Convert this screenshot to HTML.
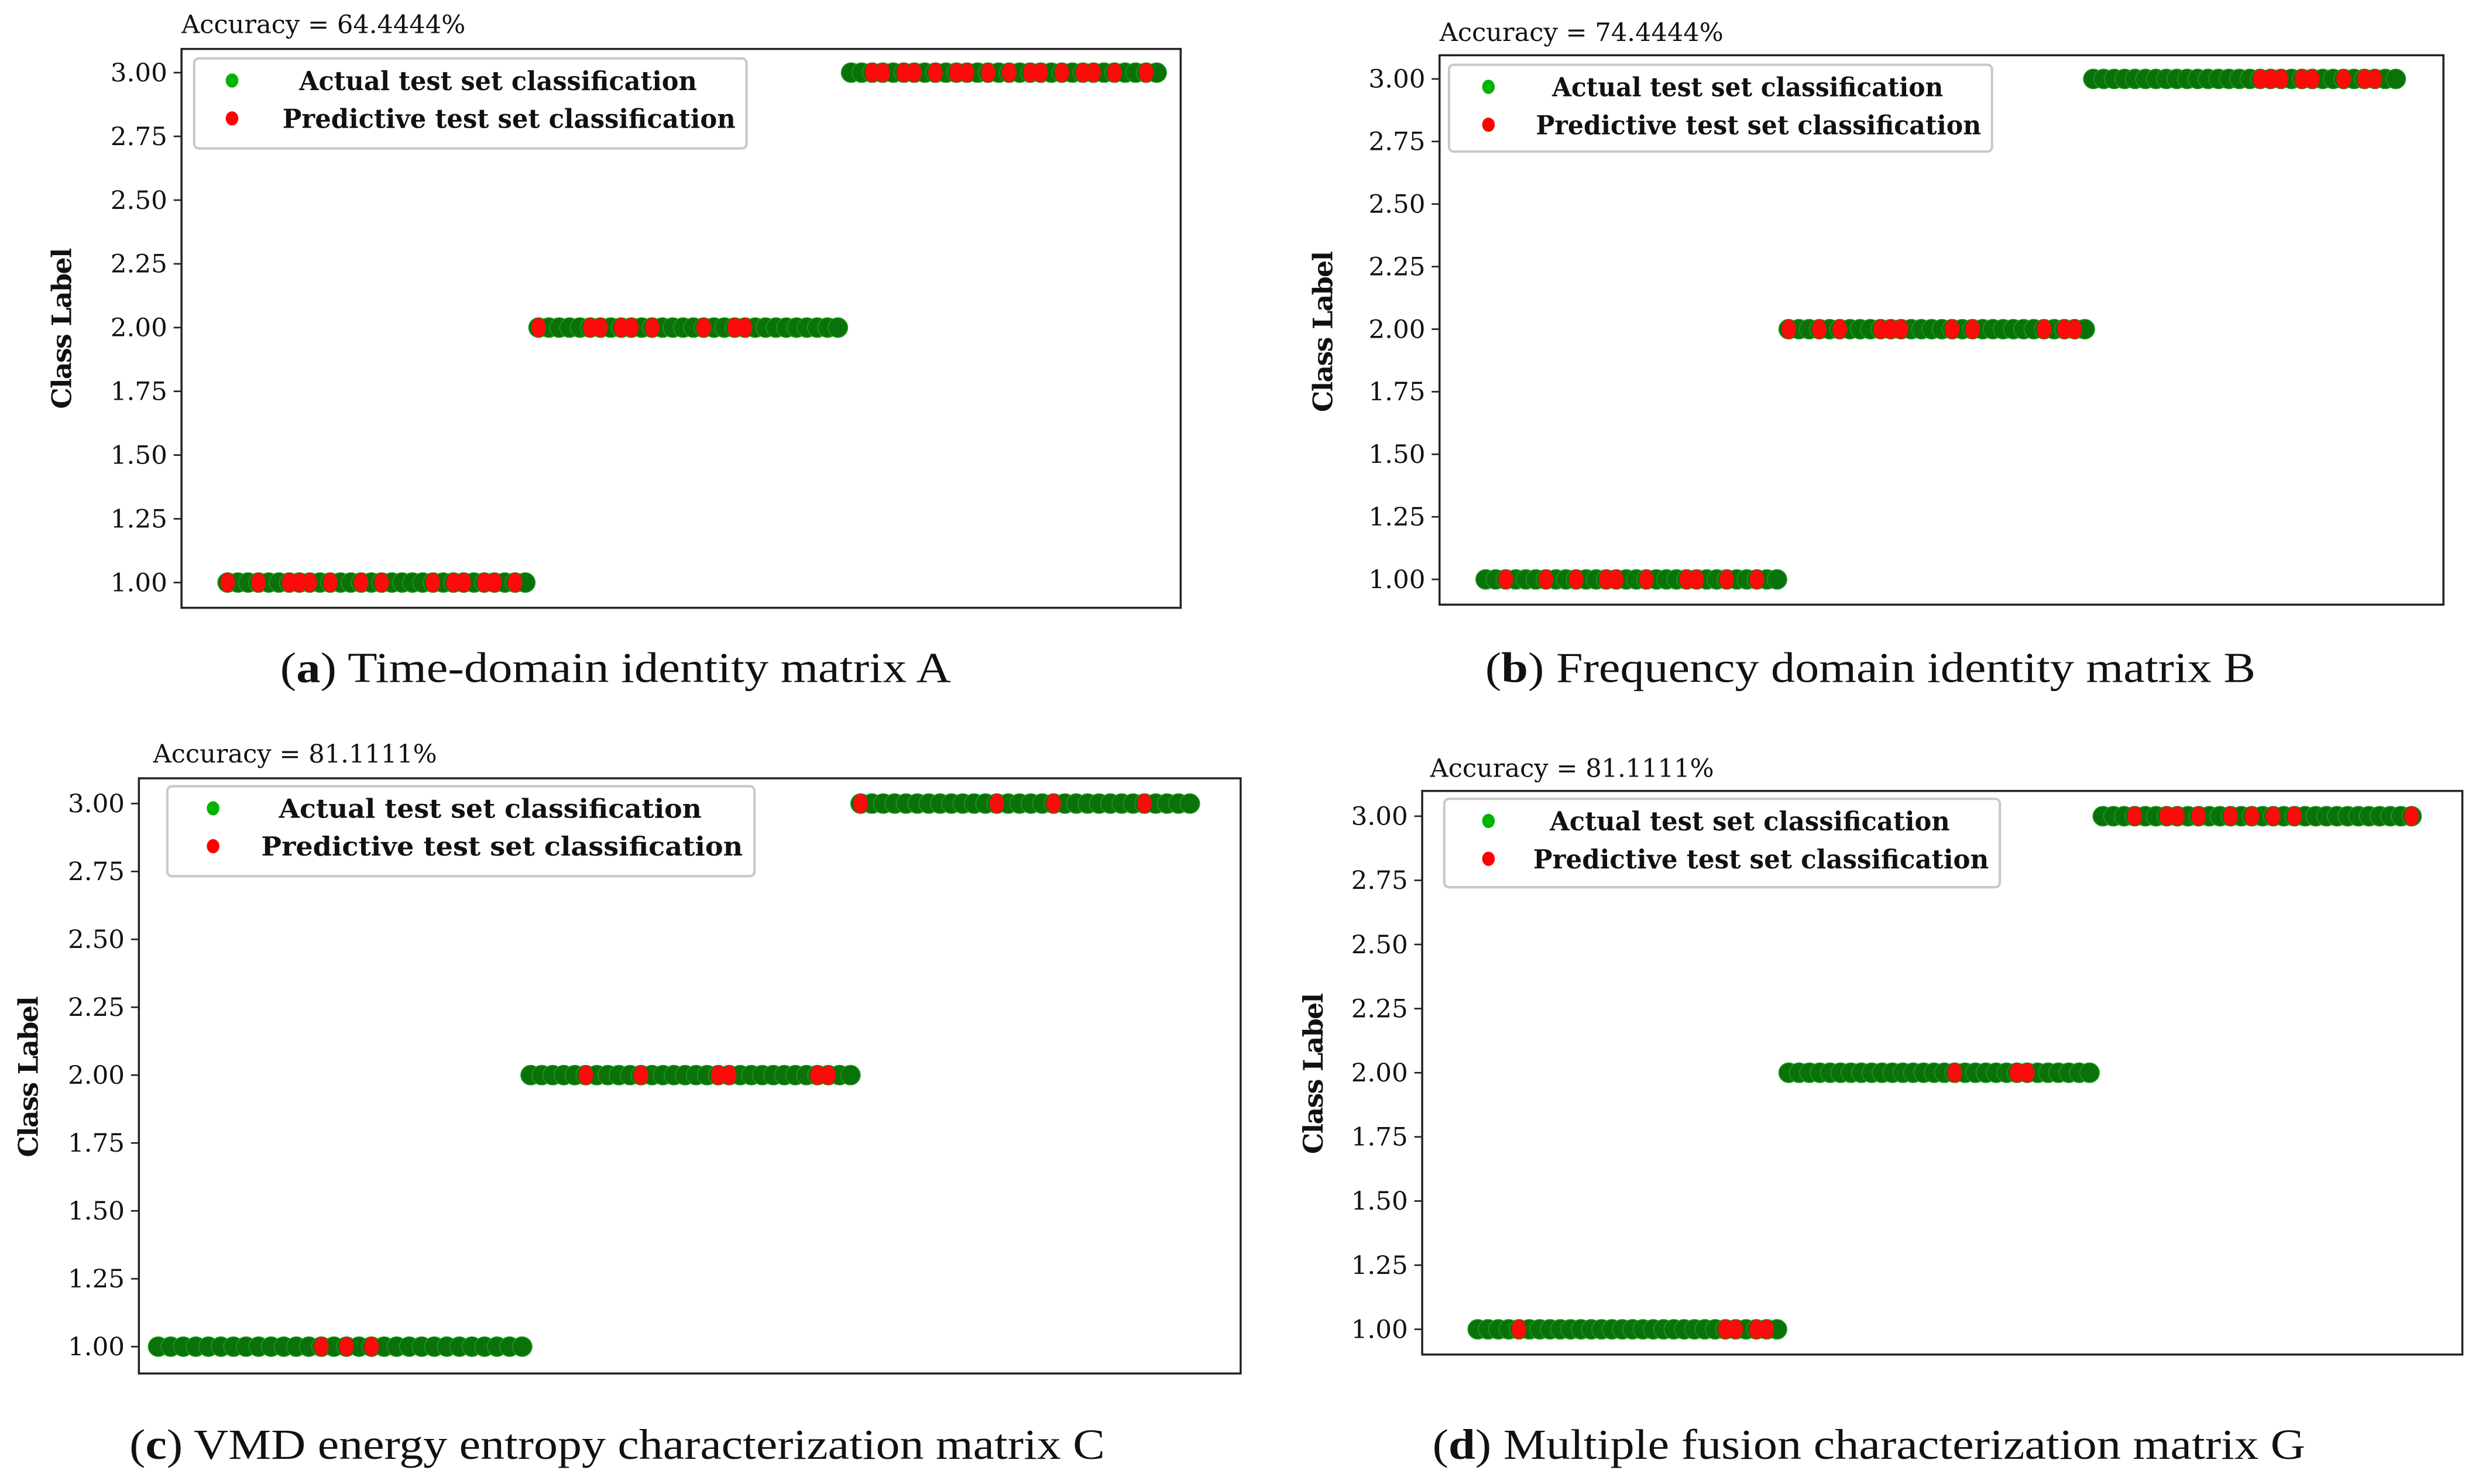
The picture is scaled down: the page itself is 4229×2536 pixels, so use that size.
<!DOCTYPE html>
<html><head><meta charset="utf-8"><style>
html,body{margin:0;padding:0;background:#fff;}
svg{display:block;}
text{font-family:"DejaVu Serif","Liberation Serif",serif;fill:#111;}
.cap{font-family:"Liberation Serif",serif;font-size:27px;}
</style></head><body>
<svg id="fig" width="4229" height="2536" viewBox="0 0 1568 940" preserveAspectRatio="none" xmlns="http://www.w3.org/2000/svg"></svg>
<script>
// ---- data ----
const classes = [1, 2, 3];
const pointsPerClass = 30;
const yTicks = [1.00, 1.25, 1.50, 1.75, 2.00, 2.25, 2.50, 2.75, 3.00];
const titles = ["Accuracy = 64.4444%", "Accuracy = 74.4444%", "Accuracy = 81.1111%", "Accuracy = 81.1111%"];
const captionLetters = ["a", "b", "c", "d"];
const captionTexts = [" Time-domain identity matrix A", " Frequency domain identity matrix B", " VMD energy entropy characterization matrix C", " Multiple fusion characterization matrix G"];
// red (mispredicted-visible) flags per class, per panel
const redA = ["100100111010010100001011011010", "100001101101000010011000000000", "001101101011010101101011010010"];
const redB = ["001000100100110010001100100100", "100101000111000010100000010110", "000000000000000011101100101100"];
const redC = ["000000000000010101000000000000", "000001000010000001100000001100", "100000000000100001000000010000"];
const redD = ["000010000000000000000000110110", "000000000000000010000011000000", "000100110100101010100000000001"];
const redFlags = [redA, redB, redC, redD];

// ---- layout (display units) ----
const layout = [
  {ax:[115,31,748,385], y3:46, y1:369, segs:[[138,339],[335,537],[533,739]], title:[115,21], leg:[123,37,473,94], dot:147, cap:[390,432], capW:425, ylab:[45,208]},
  {ax:[912,35,1548,383], y3:50, y1:367, segs:[[935,1132],[1127,1327],[1320,1524]], title:[912,26], leg:[918,41,1262,96], dot:943, cap:[1185,432], capW:488, ylab:[844,210]},
  {ax:[88,493,786,870], y3:509, y1:853, segs:[[94,337],[330,545],[539,760]], title:[97,483], leg:[106,498,478,555], dot:135, cap:[391,924], capW:618, ylab:[24,682]},
  {ax:[901,501,1560,858], y3:517, y1:842, segs:[[930,1132],[1127,1330],[1326,1534]], title:[906,492], leg:[915,506,1267,562], dot:943, cap:[1184,924], capW:553, ylab:[838,680]}
];
const R = 6.2;
const NS = "http://www.w3.org/2000/svg";
const svg = document.getElementById("fig");
function mk(tag, attrs, parent, txt){
  const e = document.createElementNS(NS, tag);
  for (const k in attrs) e.setAttribute(k, attrs[k]);
  if (txt !== undefined) e.textContent = txt;
  parent.appendChild(e); return e;
}
layout.forEach((L, p) => {
  const g = mk("g", {}, svg);
  
  
  const xScale = (ci, k) => {
    const s = L.segs[ci][0] + R, e = L.segs[ci][1] - R;
    return s + k * (e - s) / (pointsPerClass - 1);
  };
  const yScale = v => L.y1 + (v - 1) * (L.y3 - L.y1) / 2;
  const t = mk("text", {x:L.title[0], y:L.title[1], "font-size":16}, g, titles[p]);
  
  
  const fr = mk("rect", {x:L.ax[0], y:L.ax[1], width:L.ax[2]-L.ax[0], height:L.ax[3]-L.ax[1], fill:"#fff", stroke:"#222", "stroke-width":1.3}, g);
  
  
  yTicks.forEach(v => {
    const y = yScale(v);
    mk("line", {x1:L.ax[0]-5, x2:L.ax[0], y1:y, y2:y, stroke:"#222", "stroke-width":1}, g);
    const tl = mk("text", {x:L.ax[0]-9, y:y+5.5, "font-size":16, "text-anchor":"end", textLength:36, lengthAdjust:"spacingAndGlyphs"}, g, v.toFixed(2));
    
    
  });
  const yl = mk("text", {x:0, y:0, "font-size":17, "font-weight":"bold", "text-anchor":"middle", transform:`translate(${L.ylab[0]},${L.ylab[1]}) rotate(-90)`, textLength:102}, g, "Class Label");
  
  
  const pts = [];
  classes.forEach((c, ci) => {
    for (let k = 0; k < pointsPerClass; k++) pts.push({ci: ci, k: k, c: c, red: redFlags[p][ci][k] === "1"});
  });
  pts.forEach(pt => {
    const d = mk("circle", {cx:xScale(pt.ci, pt.k), cy:yScale(pt.c), r:R, fill:"#0b720b", stroke:"#1a9a1a", "stroke-width":0.6}, g);
    
    
  });
  pts.forEach(pt => {
    if (!pt.red) return;
    const d = mk("ellipse", {cx:xScale(pt.ci, pt.k), cy:yScale(pt.c), rx:4.6, ry:R, fill:"#ff0a0a"}, g);
    
    
  });
  const lg = mk("g", {}, g);
  
  
  const [lx1, ly1, lx2, ly2] = L.leg;
  mk("rect", {x:lx1, y:ly1, width:lx2-lx1, height:ly2-ly1, rx:3, fill:"#fff", stroke:"#c8c8c8", "stroke-width":1.5}, lg);
  const r1 = ly1 + 14, r2 = ly1 + 38;
  mk("ellipse", {cx:L.dot, cy:r1, rx:4, ry:4.5, fill:"#00b400"}, lg);
  mk("ellipse", {cx:L.dot, cy:r2, rx:4, ry:4.5, fill:"#ff0000"}, lg);
  const w = lx2 - lx1;
  const e1 = mk("text", {x:lx1 + w*0.55, y:r1+6, "font-size":16.5, "text-anchor":"middle", "font-weight":"bold", textLength: w*0.72, lengthAdjust:"spacingAndGlyphs"}, lg, "Actual test set classification");
  
  
  const e2 = mk("text", {x:lx1 + w*0.57, y:r2+6, "font-size":16.5, "text-anchor":"middle", "font-weight":"bold", textLength: w*0.82, lengthAdjust:"spacingAndGlyphs"}, lg, "Predictive test set classification");
  
  
  const cp = mk("text", {x:L.cap[0], y:L.cap[1], "text-anchor":"middle", class:"cap", textLength:L.capW, lengthAdjust:"spacingAndGlyphs"}, g);
  
  
  mk("tspan", {}, cp, "(");
  mk("tspan", {"font-weight":"bold"}, cp, captionLetters[p]);
  mk("tspan", {}, cp, ")" + captionTexts[p]);
});
</script>
</body></html>
